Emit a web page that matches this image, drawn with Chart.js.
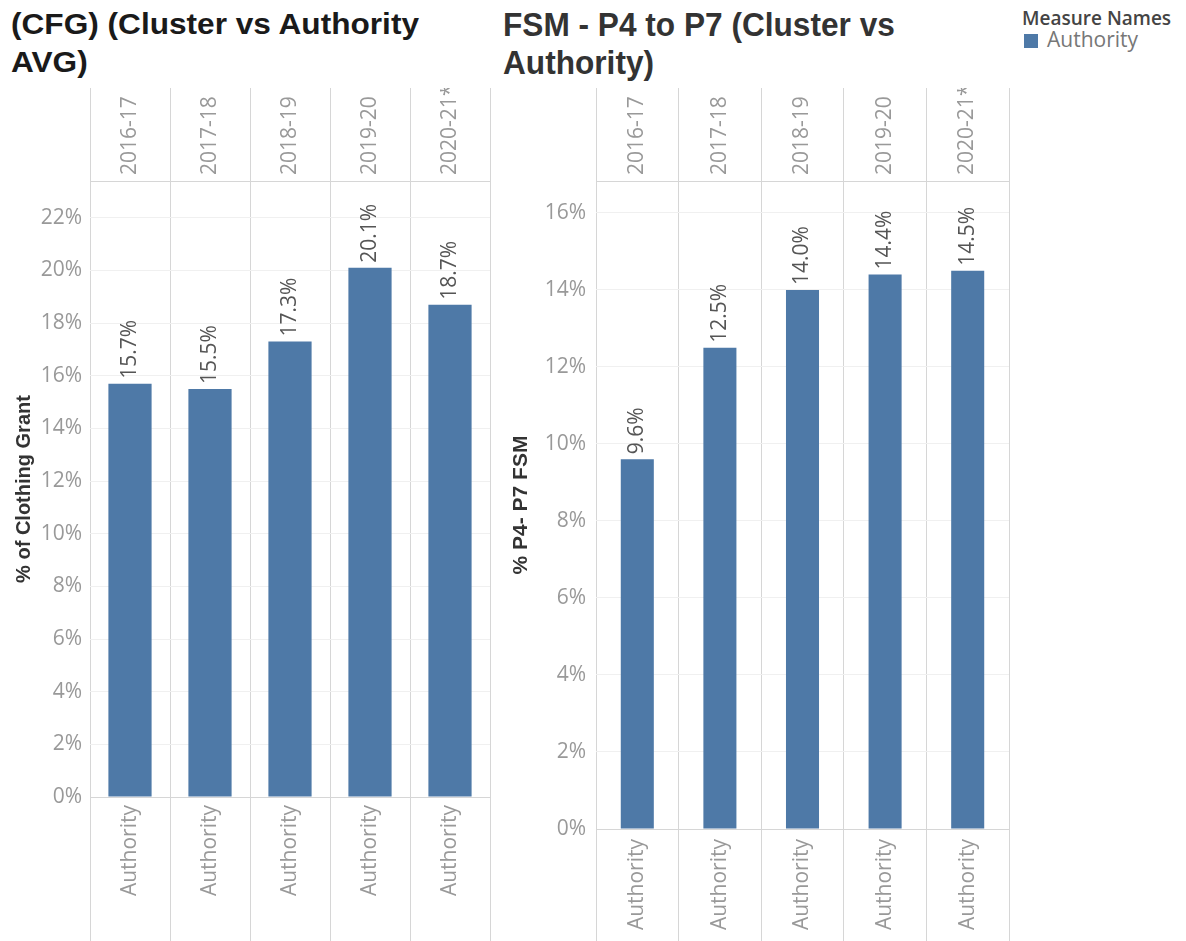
<!DOCTYPE html>
<html>
<head>
<meta charset="utf-8">
<script src="https://cdn.jsdelivr.net/npm/chart.js@4"></script>
<style>
  body { margin: 0; background: #fff; width: 1186px; height: 941px; overflow: hidden; position: relative; font-family: "Open Sans", sans-serif; }
  .title { position: absolute; font-family: "Liberation Sans", Arial, sans-serif; font-weight: bold; white-space: nowrap; transform-origin: 0 0; }
  #title-left { left: 11px; top: 5px; font-size: 29px; line-height: 38px; color: #1a1a1a; transform: scaleX(1.09); }
  #title-right { left: 503px; top: 5px; font-size: 34px; line-height: 38px; color: #333; transform: scaleX(0.93); }
  .legend-title { position: absolute; left: 1022px; top: 9px; font-size: 19px; line-height: 19px; font-weight: 600; color: #444; white-space: nowrap; }
  .legend-swatch { position: absolute; left: 1024px; top: 34px; width: 14px; height: 14px; background: #4e79a7; }
  .legend-label { position: absolute; left: 1047px; top: 29px; font-size: 21px; line-height: 21px; color: #777; white-space: nowrap; }
  canvas { position: absolute; }
</style>
</head>
<body>
<div class="title" id="title-left">(CFG) (Cluster vs Authority<br>AVG)</div>
<div class="title" id="title-right">FSM - P4 to P7 (Cluster vs<br>Authority)</div>
<div class="legend-title">Measure Names</div>
<div class="legend-swatch"></div>
<div class="legend-label">Authority</div>
<canvas id="left-canvas" width="495" height="853" style="left:0px;top:88px"></canvas>
<canvas id="right-canvas" width="516" height="853" style="left:497px;top:88px"></canvas>
<script>
const years = ["2016-17", "2017-18", "2018-19", "2019-20", "2020-21*"]
const measureLabels = ["Authority", "Authority", "Authority", "Authority", "Authority"]
const clothingGrant = [15.7, 15.5, 17.3, 20.1, 18.7]
const fsmP4toP7 = [9.6, 12.5, 14.0, 14.4, 14.5]

const barColor = "#4e79a7"
const lineColor = "#d6d6d6"
const tickColor = "#999"
const headerHeight = 93

// value labels, rotated, sitting on top of each bar
const barLabels = {
    id: "barLabels",
    afterDatasetsDraw(chart) {
        const ctx = chart.ctx
        const meta = chart.getDatasetMeta(0)
        const values = chart.data.datasets[0].data
        ctx.save()
        ctx.font = "21px 'Open Sans'"
        ctx.fillStyle = "#555"
        ctx.textAlign = "left"
        ctx.textBaseline = "middle"
        meta.data.forEach((bar, i) => {
            ctx.save()
            ctx.translate(bar.x, bar.y - 5)
            ctx.rotate(-Math.PI / 2)
            ctx.fillText(values[i].toFixed(1) + "%", 0, 0)
            ctx.restore()
        })
        ctx.restore()
    }
}

const makeChart = (canvas, values, cfg) => {
    return new Chart(canvas, {
        type: "bar",
        data: {
            labels: years,
            datasets: [{
                data: values,
                backgroundColor: barColor,
                borderWidth: 0,
                categoryPercentage: 1,
                barPercentage: cfg.barPct,
                xAxisID: "x",
                yAxisID: "y"
            }]
        },
        options: {
            responsive: false,
            animation: false,
            layout: { padding: { left: 0, right: cfg.rightPad, top: 0, bottom: 0 } },
            plugins: { legend: { display: false }, tooltip: { enabled: false } },
            scales: {
                x: {
                    type: "category",
                    position: "bottom",
                    labels: measureLabels,
                    offset: true,
                    grid: { offset: true, color: lineColor, tickColor: lineColor, drawTicks: true, tickLength: cfg.bottomHeight },
                    border: { display: true, color: lineColor },
                    ticks: {
                        autoSkip: false, minRotation: 90, maxRotation: 90,
                        padding: cfg.bottomGap - cfg.bottomHeight,
                        color: tickColor, font: { family: "Open Sans", size: 21 }
                    },
                    afterFit: (s) => { s.height = cfg.bottomHeight }
                },
                x2: {
                    type: "category",
                    position: "top",
                    labels: years,
                    offset: true,
                    grid: { offset: true, color: lineColor, tickColor: lineColor, drawOnChartArea: false, drawTicks: true, tickLength: headerHeight },
                    border: { display: true, color: lineColor },
                    ticks: {
                        autoSkip: false, minRotation: 90, maxRotation: 90,
                        padding: 6 - headerHeight,
                        labelOffset: 25,
                        color: tickColor, font: { family: "Open Sans", size: 21 }
                    },
                    afterFit: (s) => { s.height = headerHeight }
                },
                y: {
                    min: 0,
                    max: cfg.yMax,
                    grid: { color: "#f0f0f0", drawTicks: false },
                    border: { display: false },
                    ticks: {
                        stepSize: 2,
                        includeBounds: false,
                        padding: cfg.tickPad,
                        color: tickColor,
                        font: { family: "Open Sans", size: 21 },
                        callback: (v) => v + "%"
                    },
                    title: {
                        display: true,
                        text: cfg.yTitle,
                        color: "#333",
                        font: { family: "Liberation Sans", size: cfg.yTitleSize, weight: "bold" },
                        padding: { top: cfg.yTitlePad, bottom: 0 }
                    },
                    afterFit: (s) => { s.width = cfg.yWidth }
                }
            }
        },
        plugins: [barLabels]
    })
}

makeChart(document.querySelector("#left-canvas"), clothingGrant, {
    yMax: 23.4, yTitle: "% of Clothing Grant", yTitleSize: 20, yTitlePad: 12,
    yWidth: 90, tickPad: 8, rightPad: 5,
    bottomHeight: 144, bottomGap: 8, barPct: 0.54
})

makeChart(document.querySelector("#right-canvas"), fsmP4toP7, {
    yMax: 16.83, yTitle: "% P4- P7 FSM", yTitleSize: 21, yTitlePad: 12,
    yWidth: 99, tickPad: 10, rightPad: 4,
    bottomHeight: 112, bottomGap: 10, barPct: 0.40
})
</script>
</body>
</html>
